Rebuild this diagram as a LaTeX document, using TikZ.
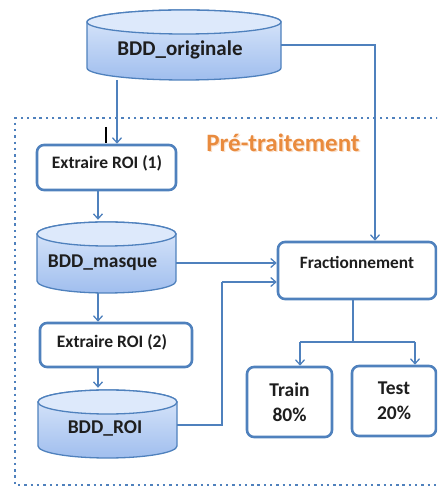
\documentclass[tikz,border=0pt]{standalone}
\usepackage{fontspec}
\setmainfont{Carlito}
\usetikzlibrary{arrows.meta,calc}

\definecolor{lineblue}{HTML}{4F81BD}
\definecolor{cyltop}{HTML}{DDE9FB}
\definecolor{cylbot}{HTML}{A0BEEE}
\definecolor{orangetxt}{HTML}{E98B3E}
\definecolor{txt}{HTML}{1E1E1E}

\tikzset{
  conn/.style={draw=lineblue, line width=1.3, -{Straight Barb[length=5pt,width=9pt]}},
  plainline/.style={draw=lineblue, line width=1.3},
  procbox/.style={draw=lineblue, line width=2.6, rounded corners=7, fill=white, inner sep=0},
  lbl/.style={text=txt, inner sep=0, font=\bfseries\fontsize{#1}{#1}\selectfont},
  lbl/.default=16,
  dotframe/.style={draw=lineblue, line width=2.4, dash pattern=on 2.4pt off 3.9pt},
}

% database drum: name, left x, right x, top y, bottom y
\newcommand\dbdrum[5]{%
  \pgfmathsetmacro\drumcx{(#2+#3)/2}%
  \pgfmathsetmacro\drumrx{(#3-#2)/2}%
  \pgfmathsetmacro\drumw{#3-#2}%
  \pgfmathsetmacro\drumh{#4-#5}%
  \pgfmathsetmacro\drumcy{(#4+#5)/2}%
  \path[draw=lineblue, line width=1.3, top color=cyltop, bottom color=cylbot]
    (#2,#4-12) -- (#2,#5+12)
    arc[start angle=180, end angle=360, x radius=\drumrx, y radius=12]
    -- (#3,#4-12)
    arc[start angle=0, end angle=180, x radius=\drumrx, y radius=12] -- cycle;
  \path[draw=lineblue, line width=1.3, fill=cyltop]
    (\drumcx,#4-12) ellipse[x radius=\drumrx, y radius=12];
  \node[inner sep=0, minimum width=\drumw pt, minimum height=\drumh pt] (#1) at (\drumcx,\drumcy) {};%
}

\begin{document}
\begin{tikzpicture}[x=1pt, y=1pt]
  \useasboundingbox (0,0) rectangle (437,487);
  \clip (0,0) rectangle (437,487);

  % pre-processing frame
  \draw[dotframe] (445,369) -- (15,369) -- (15,2) -- (445,2);
  \node[text=orangetxt!55, opacity=0.5, inner sep=0, font=\bfseries\fontsize{25}{25}\selectfont] (pretshadow) at (284.3,342.7) {Pré-traitement};
  \node[text=orangetxt, inner sep=0, font=\bfseries\fontsize{25}{25}\selectfont] (pret) at (283,344) {Pré-traitement};

  % databases
  \dbdrum{orig}{87}{281}{477}{407}
  \node[lbl=21] (origtxt) at (180,437) {BDD\_originale};
  \dbdrum{masque}{37}{176}{265}{194}
  \node[lbl=19.5] (masquetxt) at (102.5,224) {BDD\_masque};
  \dbdrum{roi}{38}{177}{97}{29}
  \node[lbl=19.5] (roitxt) at (105,59) {BDD\_ROI};

  % processing boxes
  \node[procbox, minimum width=139pt, minimum height=45pt] (roi1) at (106.5,319.5) {};
  \node[lbl=17.5] (roi1txt) at (107,324) {Extraire ROI (1)};
  \node[procbox, minimum width=152pt, minimum height=44pt] (roi2) at (116,142) {};
  \node[lbl=17.5] (roi2txt) at (112,145) {Extraire ROI (2)};
  \node[procbox, minimum width=158pt, minimum height=57pt] (frac) at (357,216.5) {};
  \node[lbl=17.3] (fractxt) at (357,225) {Fractionnement};
  \node[procbox, minimum width=85pt, minimum height=70pt, align=center,
        text=txt, font=\bfseries\fontsize{19.5}{25}\selectfont] (train) at (289.5,85) {Train\\80\%};
  \node[procbox, minimum width=84pt, minimum height=70pt, align=center,
        text=txt, font=\bfseries\fontsize{19.5}{25}\selectfont] (test) at (394,86) {Test\\20\%};

  % routing points
  \coordinate (colA) at (117,380);
  \coordinate (colB) at (98,300);
  \coordinate (bend1) at (375,442);
  \coordinate (bend2) at (222,62);
  \coordinate (bend3) at (222,205);
  \coordinate (split) at (353,145);
  \coordinate (tl) at (300,145);
  \coordinate (tr) at (415,145);
  \coordinate (tickA) at (106,360);
  \coordinate (tickB) at (106,344);

  % connectors
  \draw[conn] (orig.south -| colA) -- (roi1.north -| colA);
  \draw[black, line width=2] (tickA) -- (tickB);
  \draw[conn] (orig.east |- bend1) -- (bend1) -- (bend1 |- frac.north);
  \draw[conn] (roi1.south -| colB) -- ([yshift=2pt]masque.north -| colB);
  \draw[conn] (masque.east |- masquetxt) -- (frac.west |- masquetxt);
  \draw[conn] (masque.south -| colB) -- (roi2.north -| colB);
  \draw[conn] (roi2.south -| colB) -- ([yshift=2pt]roi.north -| colB);
  \draw[plainline] (roi.east |- bend2) -- (bend2) -- (bend3);
  \draw[conn] (bend3) -- (frac.west |- bend3);
  \draw[plainline] (frac.south -| split) -- (split);
  \draw[plainline] (tl) -- (tr);
  \draw[conn] (tl) -- (tl |- train.north);
  \draw[conn] (tr) -- (tr |- test.north);
\end{tikzpicture}
\end{document}
